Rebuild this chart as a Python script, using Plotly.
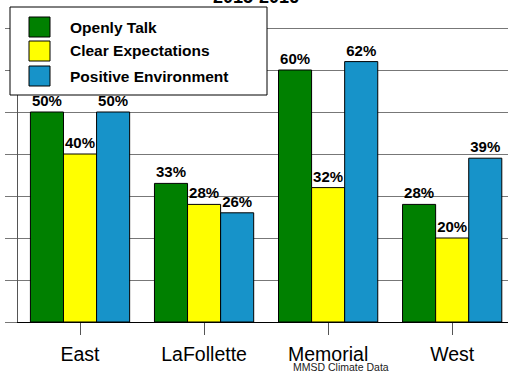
import plotly.graph_objects as go

categories = ["East", "LaFollette", "Memorial", "West"]
series_names = ["Openly Talk", "Clear Expectations", "Positive Environment"]
openly_talk = [50, 33, 60, 28]
clear_expectations = [40, 28, 32, 20]
positive_environment = [50, 26, 62, 39]
colors = ["#008000", "#FFFF00", "#1793C9"]
title_text = "2015-2016"
source_text = "MMSD Climate Data"

W, H = 508, 373
ML, MR, MT, MB = 18, 0, 7, 51
PW, PH = W - ML - MR, H - MT - MB

def px(x):
    return (x - ML) / PW

def py(y):
    return (H - MB - y) / PH

fig = go.Figure()
for name, vals, col in zip(series_names, [openly_talk, clear_expectations, positive_environment], colors):
    fig.add_trace(go.Bar(
        x=categories, y=vals, name=name,
        marker=dict(color=col, line=dict(color="black", width=1)),
        text=[f"{v}%" for v in vals], textposition="outside",
        textfont=dict(family="Liberation Sans, Arial", size=15, color="black", weight="bold"),
        cliponaxis=False, showlegend=False,
    ))

shapes = [dict(type="rect", xref="paper", yref="paper", x0=px(10), x1=px(267), y0=py(95), y1=py(7),
               fillcolor="white", line=dict(color="black", width=1), layer="above")]
annotations = []
row_y = [27, 51, 76]
for name, col, ry in zip(series_names, colors, row_y):
    shapes.append(dict(type="rect", xref="paper", yref="paper", x0=px(29), x1=px(50),
                       y0=py(ry + 10), y1=py(ry - 10), fillcolor=col,
                       line=dict(color="black", width=1), layer="above"))
    annotations.append(dict(text=f"<b>{name}</b>", xref="paper", yref="paper", x=px(68), y=py(ry),
                            xanchor="left", yanchor="middle", showarrow=False,
                            font=dict(family="Liberation Sans, Arial", size=15.5, color="black")))

annotations.append(dict(text=f"<b>{title_text}</b>", xref="paper", yref="paper", x=px(256), y=py(9),
                        xanchor="center", yanchor="bottom", showarrow=False,
                        font=dict(family="Liberation Sans, Arial", size=18, color="black")))
annotations.append(dict(text=source_text, xref="paper", yref="paper", x=px(341), y=py(367),
                        xanchor="center", yanchor="middle", showarrow=False,
                        font=dict(family="Liberation Sans, Arial", size=10.5, color="#222222")))

fig.update_layout(
    width=W, height=H, margin=dict(l=ML, r=MR, t=MT, b=MB),
    paper_bgcolor="white", plot_bgcolor="white",
    barmode="group", bargap=0.2, bargroupgap=0,
    shapes=shapes, annotations=annotations,
    font=dict(family="Liberation Sans, Arial", color="black"),
)
fig.update_xaxes(range=[-0.5, 3.45], showline=True, linecolor="black", linewidth=1,
                 ticks="outside", ticklen=12, tickcolor="#555555", ticklabelstandoff=3,
                 tickfont=dict(size=19.5, color="black"), showgrid=False)
fig.update_yaxes(range=[0, 75], dtick=10, showline=True, linecolor="#555555", linewidth=1,
                 ticks="outside", ticklen=12, tickcolor="#777777", showticklabels=False,
                 showgrid=True, gridcolor="#777777", gridwidth=1, zeroline=False)

fig.write_html("out.html")
